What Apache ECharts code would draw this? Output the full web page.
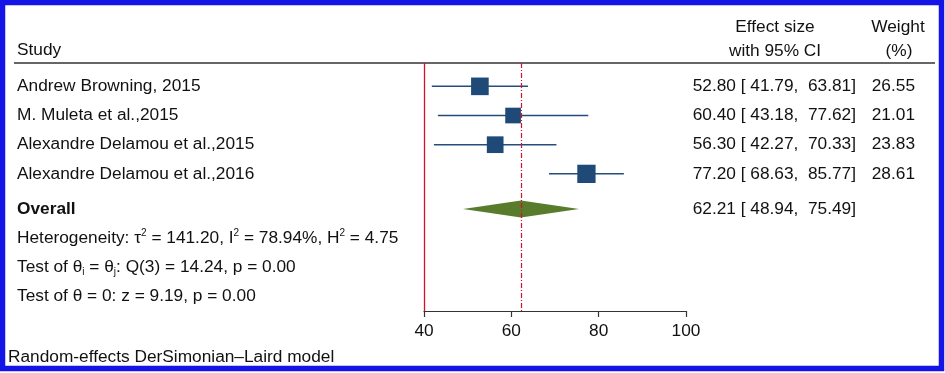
<!DOCTYPE html>
<html>
<head>
<meta charset="utf-8">
<script src="https://cdn.jsdelivr.net/npm/echarts@6/dist/echarts.min.js"></script>
<style>
  html, body { margin: 0; padding: 0; background: #fff; }
  #chart { width: 945px; height: 373px; }
</style>
</head>
<body>
<div id="chart"></div>
<script>
// study level data
const studies = ['Andrew Browning, 2015', 'M. Muleta et al.,2015', 'Alexandre Delamou et al.,2015', 'Alexandre Delamou et al.,2016'];
const effect = [52.80, 60.40, 56.30, 77.20];
const lower = [41.79, 43.18, 42.27, 68.63];
const upper = [63.81, 77.62, 70.33, 85.77];
const weight = [26.55, 21.01, 23.83, 28.61];

// pooled estimate: es, lower, upper
const overall = [62.21, 48.94, 75.49];

// heterogeneity / tests
const tau2 = '141.20';
const i2 = '78.94';
const h2 = '4.75';
const qStat = ['3', '14.24', '0.00']; // df, Q, p
const zStat = ['9.19', '0.00']; // z, p

const xTicks = [40, 60, 80, 100];

const FONT = '"Liberation Sans", Arial, sans-serif';
const FS = 17.3;
const INK = '#111';
const NAME_X = 17;
const ES_X = 856;
const W_X = 915;

function ciText(es, lo, hi) {
  return es.toFixed(2) + ' [ ' + lo.toFixed(2) + ',  ' + hi.toFixed(2) + ']';
}

const chart = echarts.init(document.getElementById('chart'));

const studyData = studies.map((s, i) => [effect[i], i + 0.8, lower[i], upper[i], weight[i], i]);

const option = {
  animation: false,
  backgroundColor: '#fff',
  grid: { left: 424, width: 262, top: 63, height: 248 },
  xAxis: {
    type: 'value',
    min: xTicks[0],
    max: xTicks[xTicks.length - 1],
    interval: 20,
    axisLine: { onZero: false, lineStyle: { color: '#333', width: 1.2 } },
    axisTick: { length: 6, lineStyle: { color: '#333', width: 1.2 } },
    axisLabel: { fontSize: FS, fontFamily: FONT, color: INK, margin: 12 },
    splitLine: { show: false }
  },
  yAxis: {
    type: 'value',
    min: 0,
    max: 8.5,
    inverse: true,
    show: false
  },
  series: [
    {
      // reference lines
      type: 'line',
      data: [],
      silent: true,
      markLine: {
        symbol: 'none',
        silent: true,
        label: { show: false },
        data: [
          { xAxis: xTicks[0], lineStyle: { color: '#d3112b', width: 1.3, type: 'solid' } },
          { xAxis: overall[0], lineStyle: { color: '#d3112b', width: 1.2, type: [5, 2, 1, 2] } }
        ]
      }
    },
    {
      // studies: CI line, weighted box, text columns
      type: 'custom',
      clip: false,
      silent: true,
      data: studyData,
      renderItem: (params, api) => {
        const c = api.coord([api.value(0), api.value(1)]);
        const lo = api.coord([api.value(2), api.value(1)]);
        const hi = api.coord([api.value(3), api.value(1)]);
        const w = api.value(4);
        const idx = api.value(5);
        const side = 3.42 * Math.sqrt(w);
        const txt = (text, x, align) => ({
          type: 'text',
          style: { text: text, x: x, y: c[1], align: align, verticalAlign: 'middle', fontSize: FS, fontFamily: FONT, fill: INK }
        });
        return {
          type: 'group',
          children: [
            { type: 'line', shape: { x1: lo[0], y1: lo[1], x2: hi[0], y2: hi[1] }, style: { stroke: '#234e7b', lineWidth: 1.5 } },
            { type: 'rect', shape: { x: c[0] - side / 2, y: c[1] - side / 2, width: side, height: side }, style: { fill: '#1f4a78' } },
            txt(studies[idx], NAME_X, 'left'),
            txt(ciText(effect[idx], lower[idx], upper[idx]), ES_X, 'right'),
            txt(weight[idx].toFixed(2), W_X, 'right')
          ]
        };
      }
    },
    {
      // overall diamond
      type: 'custom',
      clip: false,
      silent: true,
      data: [[overall[0], studies.length + 1, overall[1], overall[2]]],
      renderItem: (params, api) => {
        const c = api.coord([api.value(0), api.value(1)]);
        const lo = api.coord([api.value(2), api.value(1)]);
        const hi = api.coord([api.value(3), api.value(1)]);
        const hh = 8.5;
        return {
          type: 'group',
          children: [
            {
              type: 'polygon',
              shape: { points: [[lo[0], c[1]], [c[0], c[1] - hh], [hi[0], c[1]], [c[0], c[1] + hh]] },
              style: { fill: '#597b2c' }
            },
            { type: 'text', style: { text: 'Overall', x: NAME_X, y: c[1], verticalAlign: 'middle', fontSize: FS, fontWeight: 'bold', fontFamily: FONT, fill: INK } },
            { type: 'text', style: { text: ciText(overall[0], overall[1], overall[2]), x: ES_X, y: c[1], align: 'right', verticalAlign: 'middle', fontSize: FS, fontFamily: FONT, fill: INK } }
          ]
        };
      }
    },
    {
      // heterogeneity & tests
      type: 'custom',
      clip: false,
      silent: true,
      data: [[xTicks[0], studies.length + 2, 0], [xTicks[0], studies.length + 3, 1], [xTicks[0], studies.length + 4, 2]],
      renderItem: (params, api) => {
        const y = api.coord([api.value(0), api.value(1)])[1];
        const lines = [
          '{n|Heterogeneity: τ}{sup|2}{n| = ' + tau2 + ', I}{sup|2}{n| = ' + i2 + '%, H}{sup|2}{n| = ' + h2 + '}',
          '{n|Test of θ}{sub|i}{n| = θ}{sub|j}{n|: Q(' + qStat[0] + ') = ' + qStat[1] + ', p = ' + qStat[2] + '}',
          '{n|Test of θ = 0: z = ' + zStat[0] + ', p = ' + zStat[1] + '}'
        ];
        return {
          type: 'text',
          style: {
            text: lines[api.value(2)],
            x: NAME_X,
            y: y,
            verticalAlign: 'middle',
            fill: INK,
            rich: {
              n: { fontSize: FS, fontFamily: FONT, color: INK, lineHeight: 20 },
              sup: { fontSize: 10, fontFamily: FONT, color: INK, lineHeight: 11, verticalAlign: 'top' },
              sub: { fontSize: 10, fontFamily: FONT, color: INK, lineHeight: 10, verticalAlign: 'bottom' }
            }
          }
        };
      }
    }
  ],
  graphic: [
    {
      type: 'rect',
      shape: { x: 2.5, y: 2.5, width: 939, height: 366 },
      style: { fill: 'none', stroke: '#1414e6', lineWidth: 5.5 },
      silent: true
    },
    {
      type: 'line',
      shape: { x1: 14, y1: 63, x2: 935, y2: 63 },
      style: { stroke: '#333', lineWidth: 1.5 },
      silent: true
    },
    { type: 'text', style: { text: 'Study', x: NAME_X, y: 50, verticalAlign: 'middle', fontSize: FS, fontFamily: FONT, fill: INK } },
    { type: 'text', style: { text: 'Effect size', x: 775, y: 27, align: 'center', verticalAlign: 'middle', fontSize: FS, fontFamily: FONT, fill: INK } },
    { type: 'text', style: { text: 'with 95% CI', x: 775, y: 51, align: 'center', verticalAlign: 'middle', fontSize: FS, fontFamily: FONT, fill: INK } },
    { type: 'text', style: { text: 'Weight', x: 898, y: 27, align: 'center', verticalAlign: 'middle', fontSize: FS, fontFamily: FONT, fill: INK } },
    { type: 'text', style: { text: '(%)', x: 899, y: 51, align: 'center', verticalAlign: 'middle', fontSize: FS, fontFamily: FONT, fill: INK } },
    { type: 'text', style: { text: 'Random-effects DerSimonian–Laird model', x: 8, y: 357, verticalAlign: 'middle', fontSize: FS, fontFamily: FONT, fill: INK } }
  ]
};

chart.setOption(option);
</script>
</body>
</html>
